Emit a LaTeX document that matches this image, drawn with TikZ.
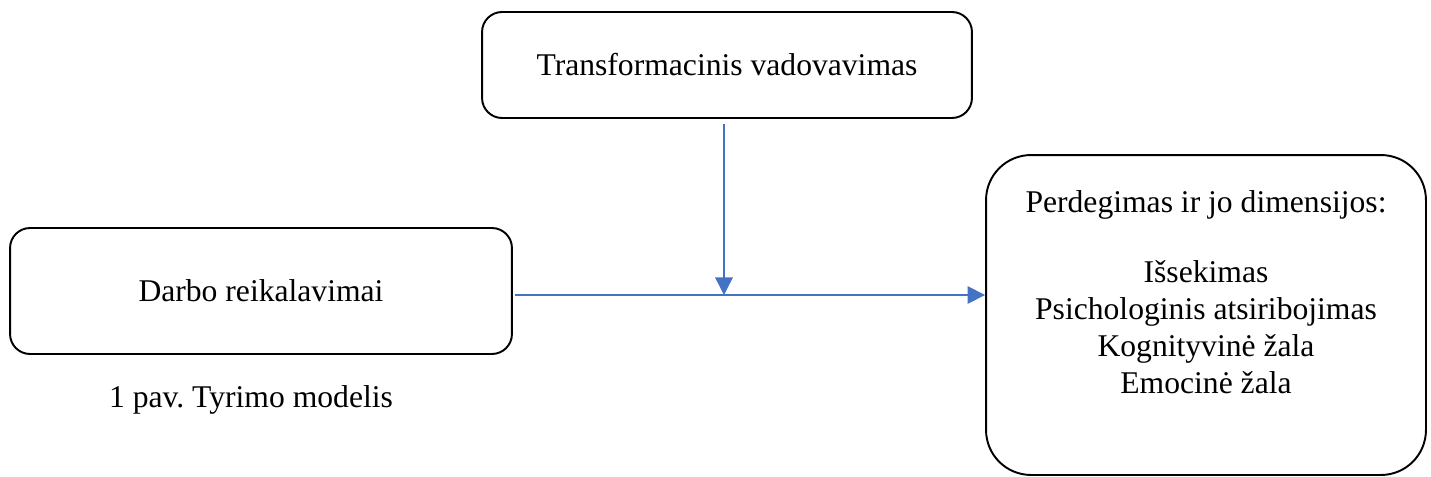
\documentclass[tikz,border=0pt]{standalone}
\usepackage{fontspec}
\setmainfont{Liberation Serif}
\usetikzlibrary{arrows.meta}
\definecolor{linkblue}{HTML}{4472C4}
\frenchspacing

\begin{document}
\begin{tikzpicture}[x=0.02cm, y=-0.02cm,
    box/.style={draw, line width=1.1pt, rounded corners=0.4cm, align=center, inner sep=0pt},
    link/.style={draw=linkblue, line width=0.8pt, -{Triangle[length=10pt,width=10pt]}},
    every node/.style={font=\fontsize{18}{21}\selectfont}]
    \useasboundingbox (0,0) rectangle (1431,477);
    \node [box, minimum width=9.8cm, minimum height=2.12cm] (leader) at (727,65) {Transformacinis vadovavimas};
    \node [box, minimum width=10.04cm, minimum height=2.52cm] (demands) at (261,291) {Darbo reikalavimai};
    \node [box, rounded corners=0.9cm, minimum width=8.8cm, minimum height=6.4cm] (burnout) at (1206,315) {};
    \node [anchor=north, inner sep=0pt, align=center] (burnoutText) at (1206,190)
        {Perdegimas ir jo dimensijos:\\[19pt] Išsekimas\\ Psichologinis atsiribojimas\\ Kognityvinė žala\\ Emocinė žala};
    \node (caption) at (251,400) {1 pav. Tyrimo modelis};

    \coordinate (join) at (724,295);
    \draw [link, shorten <=3pt] (leader.south -| join) -- (join);
    \draw [link, shorten <=1pt] (demands.east |- join) -- (burnout.west |- join);
\end{tikzpicture}
\end{document}
